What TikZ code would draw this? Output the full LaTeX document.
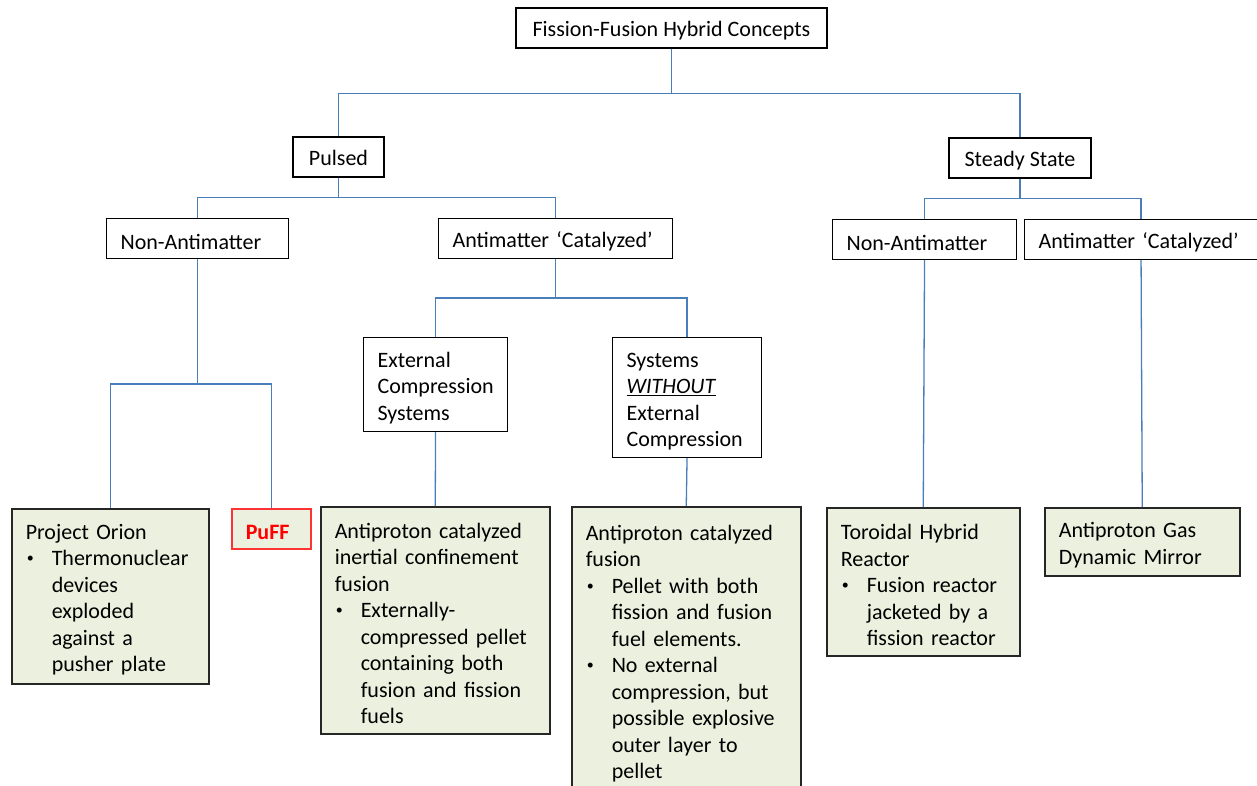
\documentclass[tikz,border=0pt]{standalone}
\usepackage{fontspec}
\setmainfont{Carlito}
\usepackage{tikz}
\definecolor{linkblue}{RGB}{74,126,187}
\definecolor{leafgreen}{RGB}{235,241,222}
\tikzstyle{box}=[draw=black, line width=1.1pt, fill=white, inner xsep=14pt, inner ysep=4pt, font=\fontsize{22}{26.5}\selectfont]
\tikzstyle{head}=[box, align=center, minimum height=40pt, text height=20pt, text depth=2.5pt]
\tikzstyle{tag}=[box, align=left, anchor=north west, execute at begin node={\rule{0pt}{22pt}}]
\tikzstyle{leaf}=[tag, draw=black!85, line width=1.5pt, fill=leafgreen]
\tikzstyle{link}=[draw=linkblue, line width=1.3pt]
\tikzset{elbow/.style={to path={-- ++(0,#1) -| (\tikztotarget)}}}
\newcommand{\bul}{\makebox[26pt][l]{\hspace{1pt}\raisebox{3pt}{\fontsize{14}{14}\selectfont\textbullet}}}
\newcommand{\ind}{\hspace*{26pt}}
\hyphenpenalty=10000
\begin{document}
\begin{tikzpicture}[x=1pt, y=-1pt]
		   \useasboundingbox (0,0) rectangle (1257,786);
		   \begin{scope}
			   \node (0) at (671.5, 28) [head, minimum width=311pt] {Fission-Fusion Hybrid Concepts};
			   \node (1) at (338.5, 157) [head, minimum width=91pt] {Pulsed};
			   \node (2) at (1020, 158) [head, minimum width=142pt] {Steady State};

			   \node (11) at (106, 218) [tag, text width=154pt, minimum height=40pt] {Non-Antimatter};
			   \node (12) at (438, 218) [tag, text width=206pt, minimum height=40pt] {Antimatter ‘Catalyzed’};
			   \node (21) at (832, 219) [tag, text width=156pt, minimum height=40pt] {Non-Antimatter};
			   \node (22) at (1024, 219) [tag, text width=205pt, minimum height=40pt] {Antimatter ‘Catalyzed’};

			   \node (121) at (363, 337) [tag, text width=116pt, minimum height=94pt] {External\\Compression\\Systems};
			   \node (122) at (612, 337) [tag, text width=121pt, minimum height=120pt] {Systems\\\underline{\textit{WITHOUT}}\\External\\Compression};

			   \node (111) at (11, 508) [leaf, text width=169pt, minimum height=175pt] {Project Orion\\\bul Thermonuclear\\\ind devices\\\ind exploded\\\ind against a\\\ind pusher plate};
			   \node (112) at (231, 508) [leaf, draw=red!80, text=red, text width=51pt, minimum height=40pt, font=\fontsize{22}{26.5}\selectfont\bfseries] {PuFF};
			   \node (1211) at (320, 506) [leaf, text width=201pt, minimum height=227pt] {Antiproton catalyzed\\inertial confinement\\fusion\\\bul Externally-\\\ind compressed pellet\\\ind containing both\\\ind fusion and fission\\\ind fuels};
			   \node (1221) at (571, 506) [leaf, text width=201pt, minimum height=287pt] {Antiproton catalyzed\\fusion\\\bul Pellet with both\\\ind fission and fusion\\\ind fuel elements.\\\bul No external\\\ind compression, but\\\ind possible explosive\\\ind outer layer to\\\ind pellet};
			   \node (211) at (826, 507) [leaf, text width=165pt, minimum height=148pt] {Toroidal Hybrid\\Reactor\\\bul Fusion reactor\\\ind jacketed by a\\\ind fission reactor};
			   \node (221) at (1044, 507) [leaf, text width=167pt, minimum height=68pt] {Antiproton Gas\\Dynamic Mirror};
		   \end{scope}
		   \begin{scope}
			   \path [link] (0.south) edge [elbow=45] (1.north);
			   \path [link] (0.south) edge [elbow=45] (2.north);
			   \path [link] (1.south) edge [elbow=20] (11.north);
			   \path [link] (1.south) edge [elbow=20] (12.north);
			   \path [link] (2.south) edge [elbow=20] (21.north);
			   \path [link] (2.south) edge [elbow=20] (22.north);

			   \path [link] (11.south) edge [elbow=125] (111.north);
			   \path [link] (11.south) edge [elbow=125] (112.north);
			   \path [link] (12.south) edge [elbow=39] (121.north);
			   \path [link] (12.south) edge [elbow=39] (122.north);

			   \path [link] (121.south) edge (1211.north);
			   \path [link] (122.south) edge (1221.north);
			   \path [link] (21.south) edge (211.north);
			   \path [link] (22.south) edge (221.north);
		   \end{scope}
\end{tikzpicture}
\end{document}
